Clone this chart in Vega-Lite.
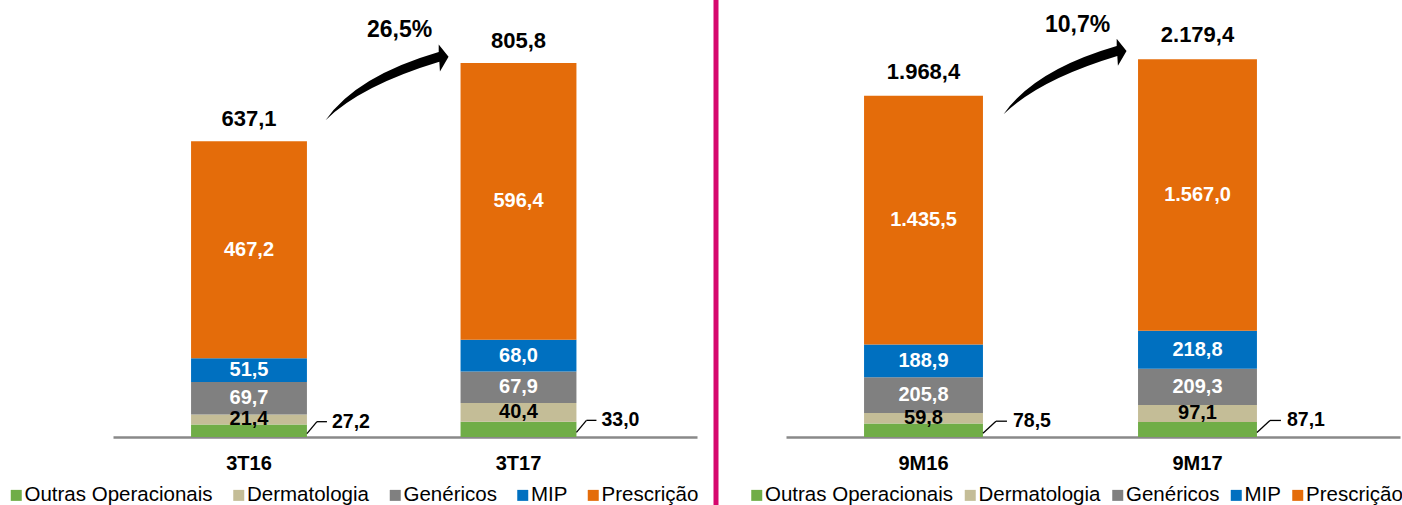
{
  "$schema": "https://vega.github.io/schema/vega-lite/v6.json",
  "padding": {"left": 6, "top": 0, "right": 0, "bottom": 0},
  "bounds": "flush",
  "spacing": 16.5,
  "background": "white",
  "datasets": {
    "tri": [
      {"period": "3T16", "category": "Outras Operacionais", "value": 27.2},
      {"period": "3T16", "category": "Dermatologia", "value": 21.4},
      {"period": "3T16", "category": "Genéricos", "value": 69.7},
      {"period": "3T16", "category": "MIP", "value": 51.5},
      {"period": "3T16", "category": "Prescrição", "value": 467.2},
      {"period": "3T17", "category": "Outras Operacionais", "value": 33.0},
      {"period": "3T17", "category": "Dermatologia", "value": 40.4},
      {"period": "3T17", "category": "Genéricos", "value": 67.9},
      {"period": "3T17", "category": "MIP", "value": 68.0},
      {"period": "3T17", "category": "Prescrição", "value": 596.4}
    ],
    "triTot": [
      {"period": "3T16", "total": 637.1},
      {"period": "3T17", "total": 805.8, "growth": 0.265}
    ],
    "nove": [
      {"period": "9M16", "category": "Outras Operacionais", "value": 78.5},
      {"period": "9M16", "category": "Dermatologia", "value": 59.8},
      {"period": "9M16", "category": "Genéricos", "value": 205.8},
      {"period": "9M16", "category": "MIP", "value": 188.9},
      {"period": "9M16", "category": "Prescrição", "value": 1435.5},
      {"period": "9M17", "category": "Outras Operacionais", "value": 87.1},
      {"period": "9M17", "category": "Dermatologia", "value": 97.1},
      {"period": "9M17", "category": "Genéricos", "value": 209.3},
      {"period": "9M17", "category": "MIP", "value": 218.8},
      {"period": "9M17", "category": "Prescrição", "value": 1567.0}
    ],
    "noveTot": [
      {"period": "9M16", "total": 1968.4},
      {"period": "9M17", "total": 2179.4, "growth": 0.107}
    ]
  },
  "resolve": {"scale": {"x": "independent", "y": "independent", "color": "independent"}},
  "hconcat": [
    {
      "width": 584,
      "height": 437,
      "encoding": {
        "x": {
          "field": "period", "type": "nominal", "title": null,
          "scale": {"paddingInner": 0.57, "paddingOuter": 0.3685, "align": 0.393},
          "axis": {"domainColor": "#898989", "domainWidth": 2.5, "ticks": false, "tickSize": 0, "labelFontSize": 20, "labelFontWeight": "bold", "labelColor": "#000000", "labelPadding": 16.5, "grid": false, "labelAngle": 0, "labelFont": "Liberation Sans"}
        }
      },
      "layer": [
        {
          "data": {"name": "tri"},
          "transform": [
            {"calculate": "indexof(['Outras Operacionais','Dermatologia','Genéricos','MIP','Prescrição'], datum.category)", "as": "ord"},
            {"stack": "value", "groupby": ["period"], "sort": [{"field": "ord", "order": "ascending"}], "as": ["y0", "y1"]},
            {"calculate": "(datum.y0 + datum.y1) / 2", "as": "mid"}
          ],
          "layer": [
            {
              "mark": {"type": "bar"},
              "encoding": {
                "y": {"field": "y1", "type": "quantitative", "scale": {"domain": [0, 941.6], "nice": false, "zero": true}, "axis": null},
                "y2": {"field": "y0"},
                "color": {
                  "field": "category", "type": "nominal",
                  "scale": {"domain": ["Outras Operacionais", "Dermatologia", "Genéricos", "MIP", "Prescrição"], "range": ["#70AD47", "#C4BD97", "#808080", "#0070C0", "#E46C0A"]},
                  "legend": {"orient": "none", "legendX": -107, "legendY": 485, "direction": "horizontal", "title": null, "symbolType": "square", "symbolSize": 121, "symbolStrokeWidth": 0, "symbolOpacity": 1, "labelFontSize": 20.5, "labelFont": "Liberation Sans", "labelColor": "#000000", "columnPadding": 15.5, "labelOffset": -2, "padding": 0, "labelLimit": 400}
                }
              }
            },
            {
              "transform": [{"filter": "indexof(['Genéricos','MIP','Prescrição'], datum.category) >= 0"}],
              "mark": {"type": "text", "color": "#FFFFFF", "fontSize": 20, "fontWeight": "bold", "font": "Liberation Sans", "baseline": "middle", "align": "center"},
              "encoding": {
                "y": {"field": "mid", "type": "quantitative", "axis": null},
                "text": {"field": "value", "type": "quantitative", "format": ",.1f"}
              }
            },
            {
              "transform": [{"filter": "datum.category === 'Dermatologia'"}],
              "mark": {"type": "text", "color": "#000000", "fontSize": 20, "fontWeight": "bold", "font": "Liberation Sans", "baseline": "middle", "align": "center"},
              "encoding": {
                "y": {"field": "mid", "type": "quantitative", "axis": null},
                "text": {"field": "value", "type": "quantitative", "format": ",.1f"}
              }
            },
            {
              "transform": [{"filter": "datum.category === 'Outras Operacionais'"}],
              "mark": {"type": "rule", "color": "#000000", "strokeWidth": 1.3, "x2Offset": 10, "yOffset": 3, "y2Offset": -9},
              "encoding": {
                "x": {"field": "period", "type": "nominal", "bandPosition": 1},
                "x2": {"field": "period", "bandPosition": 1},
                "y": {"field": "mid", "type": "quantitative", "axis": null},
                "y2": {"field": "mid"}
              }
            },
            {
              "transform": [{"filter": "datum.category === 'Outras Operacionais'"}],
              "mark": {"type": "rule", "color": "#000000", "strokeWidth": 1.3, "xOffset": 10, "x2Offset": 20, "yOffset": -9},
              "encoding": {
                "x": {"field": "period", "type": "nominal", "bandPosition": 1},
                "x2": {"field": "period", "bandPosition": 1},
                "y": {"field": "mid", "type": "quantitative", "axis": null}
              }
            },
            {
              "transform": [{"filter": "datum.category === 'Outras Operacionais'"}],
              "mark": {"type": "text", "color": "#000000", "fontSize": 19.5, "fontWeight": "bold", "font": "Liberation Sans", "baseline": "middle", "align": "left", "dx": 25, "dy": -9},
              "encoding": {
                "x": {"field": "period", "type": "nominal", "bandPosition": 1},
                "y": {"field": "mid", "type": "quantitative", "axis": null},
                "text": {"field": "value", "type": "quantitative", "format": ",.1f"}
              }
            }
          ]
        },
        {
          "data": {"name": "triTot"},
          "layer": [
            {
              "mark": {"type": "text", "color": "#000000", "fontSize": 22, "fontWeight": "bold", "font": "Liberation Sans", "baseline": "alphabetic", "align": "center", "dy": -15},
              "encoding": {
                "y": {"field": "total", "type": "quantitative", "axis": null},
                "text": {"field": "total", "type": "quantitative", "format": ",.1f"}
              }
            },
            {
              "transform": [{"filter": "isValid(datum.growth)"}],
              "mark": {"type": "text", "color": "#000000", "fontSize": 23, "fontWeight": "bold", "font": "Liberation Sans", "baseline": "alphabetic", "align": "center", "dx": -61, "dy": -26},
              "encoding": {
                "x": {"field": "period", "type": "nominal", "bandPosition": 0},
                "y": {"field": "total", "type": "quantitative", "axis": null},
                "text": {"field": "growth", "type": "quantitative", "format": ".1%"}
              }
            },
            {
              "transform": [{"filter": "isValid(datum.growth)"}],
              "mark": {"type": "point", "shape": "M -1 0.62 Q -0.5 -0.1 0.84 -0.49 L 0.84 -0.61 L 1 -0.41 L 0.86 -0.17 L 0.85 -0.33 Q -0.425 0.055 -1 0.62 Z", "filled": true, "color": "#000000", "opacity": 1, "strokeWidth": 0, "size": 15129, "xOffset": -73.5, "yOffset": 19},
              "encoding": {
                "x": {"field": "period", "type": "nominal", "bandPosition": 0},
                "y": {"field": "total", "type": "quantitative", "axis": null}
              }
            }
          ]
        }
      ]
    },
    {
      "bounds": "flush",
      "spacing": 67.5,
      "resolve": {"scale": {"x": "independent", "y": "independent", "color": "independent"}},
      "hconcat": [
        {
          "width": 5,
          "height": 505,
          "data": {"values": [{"sep": 1}]},
          "mark": {"type": "rect", "color": "#D6086E"},
          "encoding": {}
        },
        {
          "width": 614,
          "height": 437,
          "encoding": {
            "x": {
              "field": "period", "type": "nominal", "title": null,
              "scale": {"paddingInner": 0.566, "paddingOuter": 0.4035, "align": 0.353},
              "axis": {"domainColor": "#898989", "domainWidth": 2.5, "ticks": false, "tickSize": 0, "labelFontSize": 20, "labelFontWeight": "bold", "labelColor": "#000000", "labelPadding": 16.5, "grid": false, "labelAngle": 0, "labelFont": "Liberation Sans"}
            }
          },
          "layer": [
            {
              "data": {"name": "nove"},
              "transform": [
                {"calculate": "indexof(['Outras Operacionais','Dermatologia','Genéricos','MIP','Prescrição'], datum.category)", "as": "ord"},
                {"stack": "value", "groupby": ["period"], "sort": [{"field": "ord", "order": "ascending"}], "as": ["y0", "y1"]},
                {"calculate": "(datum.y0 + datum.y1) / 2", "as": "mid"}
              ],
              "layer": [
                {
                  "mark": {"type": "bar"},
                  "encoding": {
                    "y": {"field": "y1", "type": "quantitative", "scale": {"domain": [0, 2521], "nice": false, "zero": true}, "axis": null},
                    "y2": {"field": "y0"},
                    "color": {
                      "field": "category", "type": "nominal",
                      "scale": {"domain": ["Outras Operacionais", "Dermatologia", "Genéricos", "MIP", "Prescrição"], "range": ["#70AD47", "#C4BD97", "#808080", "#0070C0", "#E46C0A"]},
                      "legend": {"orient": "none", "legendX": -39.5, "legendY": 485, "direction": "horizontal", "title": null, "symbolType": "square", "symbolSize": 121, "symbolStrokeWidth": 0, "symbolOpacity": 1, "labelFontSize": 20.5, "labelFont": "Liberation Sans", "labelColor": "#000000", "columnPadding": 6.5, "labelOffset": -2, "padding": 0, "labelLimit": 400}
                    }
                  }
                },
                {
                  "transform": [{"filter": "indexof(['Genéricos','MIP','Prescrição'], datum.category) >= 0"}],
                  "mark": {"type": "text", "color": "#FFFFFF", "fontSize": 20, "fontWeight": "bold", "font": "Liberation Sans", "baseline": "middle", "align": "center"},
                  "encoding": {
                    "y": {"field": "mid", "type": "quantitative", "axis": null},
                    "text": {"field": "value", "type": "quantitative", "format": ",.1f"}
                  }
                },
                {
                  "transform": [{"filter": "datum.category === 'Dermatologia'"}],
                  "mark": {"type": "text", "color": "#000000", "fontSize": 20, "fontWeight": "bold", "font": "Liberation Sans", "baseline": "middle", "align": "center"},
                  "encoding": {
                    "y": {"field": "mid", "type": "quantitative", "axis": null},
                    "text": {"field": "value", "type": "quantitative", "format": ",.1f"}
                  }
                },
                {
                  "transform": [{"filter": "datum.category === 'Outras Operacionais'"}],
                  "mark": {"type": "rule", "color": "#000000", "strokeWidth": 1.3, "x2Offset": 13, "yOffset": 3, "y2Offset": -9},
                  "encoding": {
                    "x": {"field": "period", "type": "nominal", "bandPosition": 1},
                    "x2": {"field": "period", "bandPosition": 1},
                    "y": {"field": "mid", "type": "quantitative", "axis": null},
                    "y2": {"field": "mid"}
                  }
                },
                {
                  "transform": [{"filter": "datum.category === 'Outras Operacionais'"}],
                  "mark": {"type": "rule", "color": "#000000", "strokeWidth": 1.3, "xOffset": 13, "x2Offset": 24, "yOffset": -9},
                  "encoding": {
                    "x": {"field": "period", "type": "nominal", "bandPosition": 1},
                    "x2": {"field": "period", "bandPosition": 1},
                    "y": {"field": "mid", "type": "quantitative", "axis": null}
                  }
                },
                {
                  "transform": [{"filter": "datum.category === 'Outras Operacionais'"}],
                  "mark": {"type": "text", "color": "#000000", "fontSize": 19.5, "fontWeight": "bold", "font": "Liberation Sans", "baseline": "middle", "align": "left", "dx": 30, "dy": -9},
                  "encoding": {
                    "x": {"field": "period", "type": "nominal", "bandPosition": 1},
                    "y": {"field": "mid", "type": "quantitative", "axis": null},
                    "text": {"field": "value", "type": "quantitative", "format": ",.1f"}
                  }
                }
              ]
            },
            {
              "data": {"name": "noveTot"},
              "layer": [
                {
                  "mark": {"type": "text", "color": "#000000", "fontSize": 22, "fontWeight": "bold", "font": "Liberation Sans", "baseline": "alphabetic", "align": "center", "dy": -17},
                  "encoding": {
                    "y": {"field": "total", "type": "quantitative", "axis": null},
                    "text": {"field": "total", "type": "quantitative", "format": ",.1f"}
                  }
                },
                {
                  "transform": [{"filter": "isValid(datum.growth)"}],
                  "mark": {"type": "text", "color": "#000000", "fontSize": 23, "fontWeight": "bold", "font": "Liberation Sans", "baseline": "alphabetic", "align": "center", "dx": -60.5, "dy": -27},
                  "encoding": {
                    "x": {"field": "period", "type": "nominal", "bandPosition": 0},
                    "y": {"field": "total", "type": "quantitative", "axis": null},
                    "text": {"field": "growth", "type": "quantitative", "format": ".1%"}
                  }
                },
                {
                  "transform": [{"filter": "isValid(datum.growth)"}],
                  "mark": {"type": "point", "shape": "M -1 0.62 Q -0.5 -0.1 0.84 -0.49 L 0.84 -0.61 L 1 -0.41 L 0.86 -0.17 L 0.85 -0.33 Q -0.425 0.055 -1 0.62 Z", "filled": true, "color": "#000000", "opacity": 1, "strokeWidth": 0, "size": 15129, "xOffset": -73, "yOffset": 17},
                  "encoding": {
                    "x": {"field": "period", "type": "nominal", "bandPosition": 0},
                    "y": {"field": "total", "type": "quantitative", "axis": null}
                  }
                }
              ]
            }
          ]
        }
      ]
    }
  ],
  "config": {
    "font": "Liberation Sans",
    "view": {"stroke": null},
    "locale": {"number": {"decimal": ",", "thousands": ".", "grouping": [3], "currency": ["R$", ""]}}
  }
}
